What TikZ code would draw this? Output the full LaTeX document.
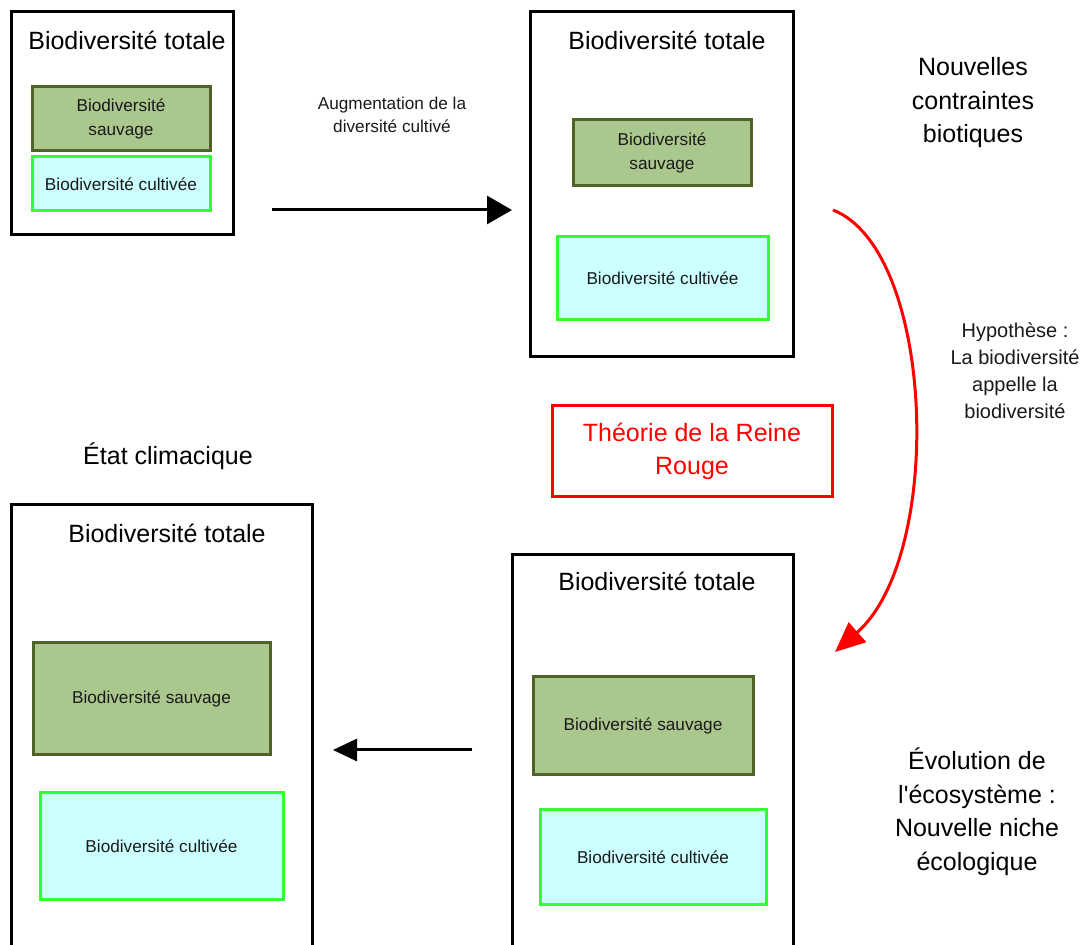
\documentclass[tikz,border=0pt]{standalone}
\usepackage{fontspec}
\setmainfont{Liberation Sans}
\newfontfamily\plainsans{Liberation Sans}
\usetikzlibrary{arrows.meta}
\definecolor{wildfill}{HTML}{AAC78D}
\definecolor{wilddraw}{HTML}{4F6228}
\definecolor{cultfill}{HTML}{CCFFFF}
\definecolor{cultdraw}{HTML}{33FF33}
\definecolor{txt}{HTML}{1A1A1A}
\tikzset{
  outer/.style={draw=black,line width=1.5pt,fill=white,inner sep=0pt},
  wild/.style={draw=wilddraw,fill=wildfill,line width=1.5pt,inner sep=0pt,align=center,text=txt,font=\fontsize{8.6}{12}\selectfont},
  cult/.style={draw=cultdraw,fill=cultfill,line width=1.5pt,inner sep=0pt,align=center,text=txt,font=\fontsize{8.6}{12}\selectfont},
  title/.style={inner sep=0pt,align=center,text=black,font=\fontsize{12.5}{16.75}\selectfont},
  small/.style={inner sep=0pt,align=center,text=txt,font=\fontsize{8.6}{11.5}\selectfont},
  mid/.style={inner sep=0pt,align=center,text=txt,font=\fontsize{10}{13.5}\selectfont},
  redbox/.style={draw=red,line width=1.5pt,inner sep=0pt,align=center,text=red,font=\fontsize{12.5}{16.5}\selectfont},
  blackarrow/.style={draw=black,line width=1.5pt,-{Triangle[length=12.5pt,width=14pt]}},
  blackarrowsm/.style={draw=black,line width=1.5pt,-{Triangle[length=12pt,width=11pt]}},
  redarrow/.style={draw=red,line width=1.5pt,-{Triangle[length=15pt,width=13pt]}}
}
\begin{document}
\begin{tikzpicture}[x=0.5pt,y=-0.5pt]
\clip (0,0) rectangle (1082,945);
\fill[white] (0,0) rectangle (1082,945);
% Box 1
\node[outer,minimum width=111pt,minimum height=111.5pt] (b1) at (122,123.5) {};
\node[title] (t1) at (127,40) {Biodiversité totale};
\node[wild,minimum width=89pt,minimum height=32pt] (w1) at (121,119) {Biodiversité\\sauvage};
\node[cult,minimum width=89pt,minimum height=27pt] (c1) at (121,184) {Biodiversité cultivée};
% Box 2
\node[outer,minimum width=131.5pt,minimum height=172.5pt] (b2) at (661.5,184.5) {};
\node[title] (t2) at (667,40) {Biodiversité totale};
\node[wild,minimum width=89pt,minimum height=33pt] (w2) at (662,153) {Biodiversité\\sauvage};
\node[cult,minimum width=105.5pt,minimum height=41.5pt] (c2) at (662.5,278.5) {Biodiversité cultivée};
% Box 3
\node[outer,minimum width=150.5pt,minimum height=225pt] (b3) at (161.5,730) {};
\node[title] (t3) at (167,533) {Biodiversité totale};
\node[wild,minimum width=118.5pt,minimum height=56pt] (w3) at (151.5,699) {Biodiversité sauvage};
\node[cult,minimum width=121.5pt,minimum height=53.5pt] (c3) at (161.5,846.5) {Biodiversité cultivée};
% Box 4
\node[outer,minimum width=140.5pt,minimum height=200pt] (b4) at (652.5,755) {};
\node[title] (t4) at (657,581) {Biodiversité totale};
\node[wild,minimum width=110pt,minimum height=49pt] (w4) at (643,726) {Biodiversité sauvage};
\node[cult,minimum width=113pt,minimum height=47.5pt] (c4) at (653,857.5) {Biodiversité cultivée};
% Red box
\node[redbox,minimum width=140pt,minimum height=45.5pt] (rr) at (692,451.5) {Théorie de la Reine\\Rouge};
% Labels
\node[small] (aug) at (392,115) {Augmentation de la\\diversité cultivé};
\node[title] (nc) at (973,103) {Nouvelles\\contraintes\\biotiques};
\node[mid] (hyp) at (1015,371) {Hypothèse :\\La biodiversité\\appelle la\\biodiversité};
\node[title] (ec) at (168,456) {État climacique};
\node[title] (evo) at (977,812) {Évolution de\\l{\plainsans '}écosystème :\\Nouvelle niche\\écologique};
% Arrows
\coordinate (a1s) at (272,210);
\coordinate (a1e) at (512,210);
\draw[blackarrow] (a1s) -- (a1e);
\coordinate (a2s) at (472,750);
\coordinate (a2e) at (333,750);
\draw[blackarrowsm] (a2s) -- (a2e);
\coordinate (r1) at (833,210);
\coordinate (r2) at (835,652);
\draw[redarrow] (r1) .. controls (935,250) and (945,555) .. (r2);
\end{tikzpicture}
\end{document}
